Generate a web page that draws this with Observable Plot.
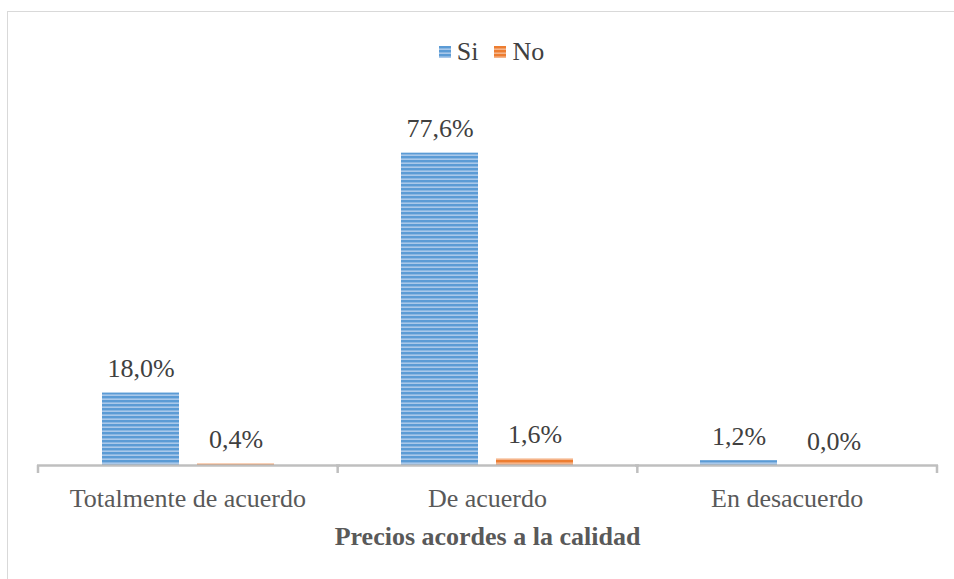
<!DOCTYPE html>
<html>
<head>
<meta charset="utf-8">
<script src="https://cdn.jsdelivr.net/npm/d3@7"></script>
<script src="https://cdn.jsdelivr.net/npm/@observablehq/plot@0.6"></script>
<style>
  html, body { margin: 0; padding: 0; background: #fff; }
  #wrap { position: relative; width: 954px; height: 579px; overflow: hidden; font-family: "Liberation Serif", Tinos, "Times New Roman", serif; }
  #frame { position: absolute; left: 7px; top: 11px; width: 1000px; height: 1000px; border-left: 1.5px solid #d9d9d9; border-top: 1.5px solid #d9d9d9; }
  #legend { position: absolute; top: 35px; left: 0; width: 983px; text-align: center; font-size: 26px; line-height: 30px; color: #404040; white-space: nowrap; }
  #legend span.item { display: inline-flex; align-items: center; margin: 0 8px; }
  #legend svg { margin-right: 6px; }
  #chart { position: absolute; left: 0; top: 0; }
  #xtitle { position: absolute; top: 522px; left: 38px; width: 899px; text-align: center; font-weight: bold; font-size: 26px; line-height: 30px; color: #595959; }
</style>
</head>
<body>
<svg width="0" height="0" style="position:absolute">
  <defs>
    <pattern id="pSi" patternUnits="userSpaceOnUse" width="8" height="4">
      <rect width="8" height="4" fill="#a9c8ea"></rect>
      <rect width="8" height="2.4" fill="#5b9bd5"></rect>
    </pattern>
    <pattern id="pNo" patternUnits="userSpaceOnUse" width="8" height="4">
      <rect width="8" height="4" fill="#f5b48a"></rect>
      <rect width="8" height="2.4" fill="#ed7d31"></rect>
    </pattern>
  </defs>
</svg>
<div id="wrap">
  <div id="frame"></div>
  <div id="legend"></div>
  <div id="chart"></div>
  <div id="xtitle"></div>
</div>
<script>
const categories = ["Totalmente de acuerdo", "De acuerdo", "En desacuerdo"];
const series = ["Si", "No"];
const siValues = [18.0, 77.6, 1.2];
const noValues = [0.4, 1.6, 0.0];
const axisTitle = "Precios acordes a la calidad";
const patterns = ["url(#pSi)", "url(#pNo)"];

const data = [];
categories.forEach((c, i) => {
  data.push({categoria: c, serie: "Si", valor: siValues[i]});
  data.push({categoria: c, serie: "No", valor: noValues[i]});
});
const fmt = v => v.toFixed(1).replace(".", ",") + "%";
const FONT = '"Liberation Serif", Tinos, "Times New Roman", serif';

// legend
const legend = document.getElementById("legend");
series.forEach((s, i) => {
  const item = document.createElement("span");
  item.className = "item";
  item.innerHTML = `<svg width="12" height="12"><rect width="12" height="12" fill="${patterns[i]}"></rect></svg>${s}`;
  legend.appendChild(item);
});
document.getElementById("xtitle").textContent = axisTitle;

const plot = Plot.plot({
  width: 954,
  height: 579,
  marginTop: 143,
  marginBottom: 114,
  marginLeft: 38,
  marginRight: 17,
  style: {fontFamily: FONT, background: "transparent", overflow: "visible"},
  fx: {domain: categories, padding: 0, label: null, axis: null},
  x: {domain: series, paddingInner: 0.1875, paddingOuter: 0.656, axis: null},
  y: {domain: [0, 80], axis: null},
  color: {domain: series, range: patterns},
  facet: {data: data, x: "categoria", label: null},
  marks: [
    Plot.barY(data, {x: "serie", y: "valor", fill: "serie"}),
    Plot.ruleY([0], {stroke: "#bfbfbf", strokeWidth: 2.5, insetLeft: -2, insetRight: -2}),
    Plot.text(data, {x: "serie", y: "valor", text: d => fmt(d.valor), dy: -24, fontSize: 26, fill: "#404040", lineAnchor: "middle", fontFamily: FONT})
  ]
});
document.getElementById("chart").appendChild(plot);

// category boundary ticks and category labels via the fx scale
const fx = plot.scale("fx");
const svg = d3.select(plot);
const step = (fx.range[1] - fx.range[0]) / categories.length;
const bounds = categories.map((c, i) => fx.range[0] + i * step).concat([fx.range[1]]);
const y0 = plot.scale("y").apply(0);
svg.append("g").selectAll("line").data(bounds).join("line")
  .attr("x1", d => d).attr("x2", d => d)
  .attr("y1", y0).attr("y2", y0 + 8)
  .attr("stroke", "#bfbfbf").attr("stroke-width", 2.5);
svg.append("g").selectAll("text").data(categories).join("text")
  .attr("x", (d, i) => bounds[i] + step / 2)
  .attr("y", y0 + 36)
  .attr("text-anchor", "middle")
  .attr("dominant-baseline", "middle")
  .attr("font-size", 26)
  .attr("font-family", FONT)
  .attr("fill", "#595959")
  .text(d => d);
</script>
</body>
</html>
